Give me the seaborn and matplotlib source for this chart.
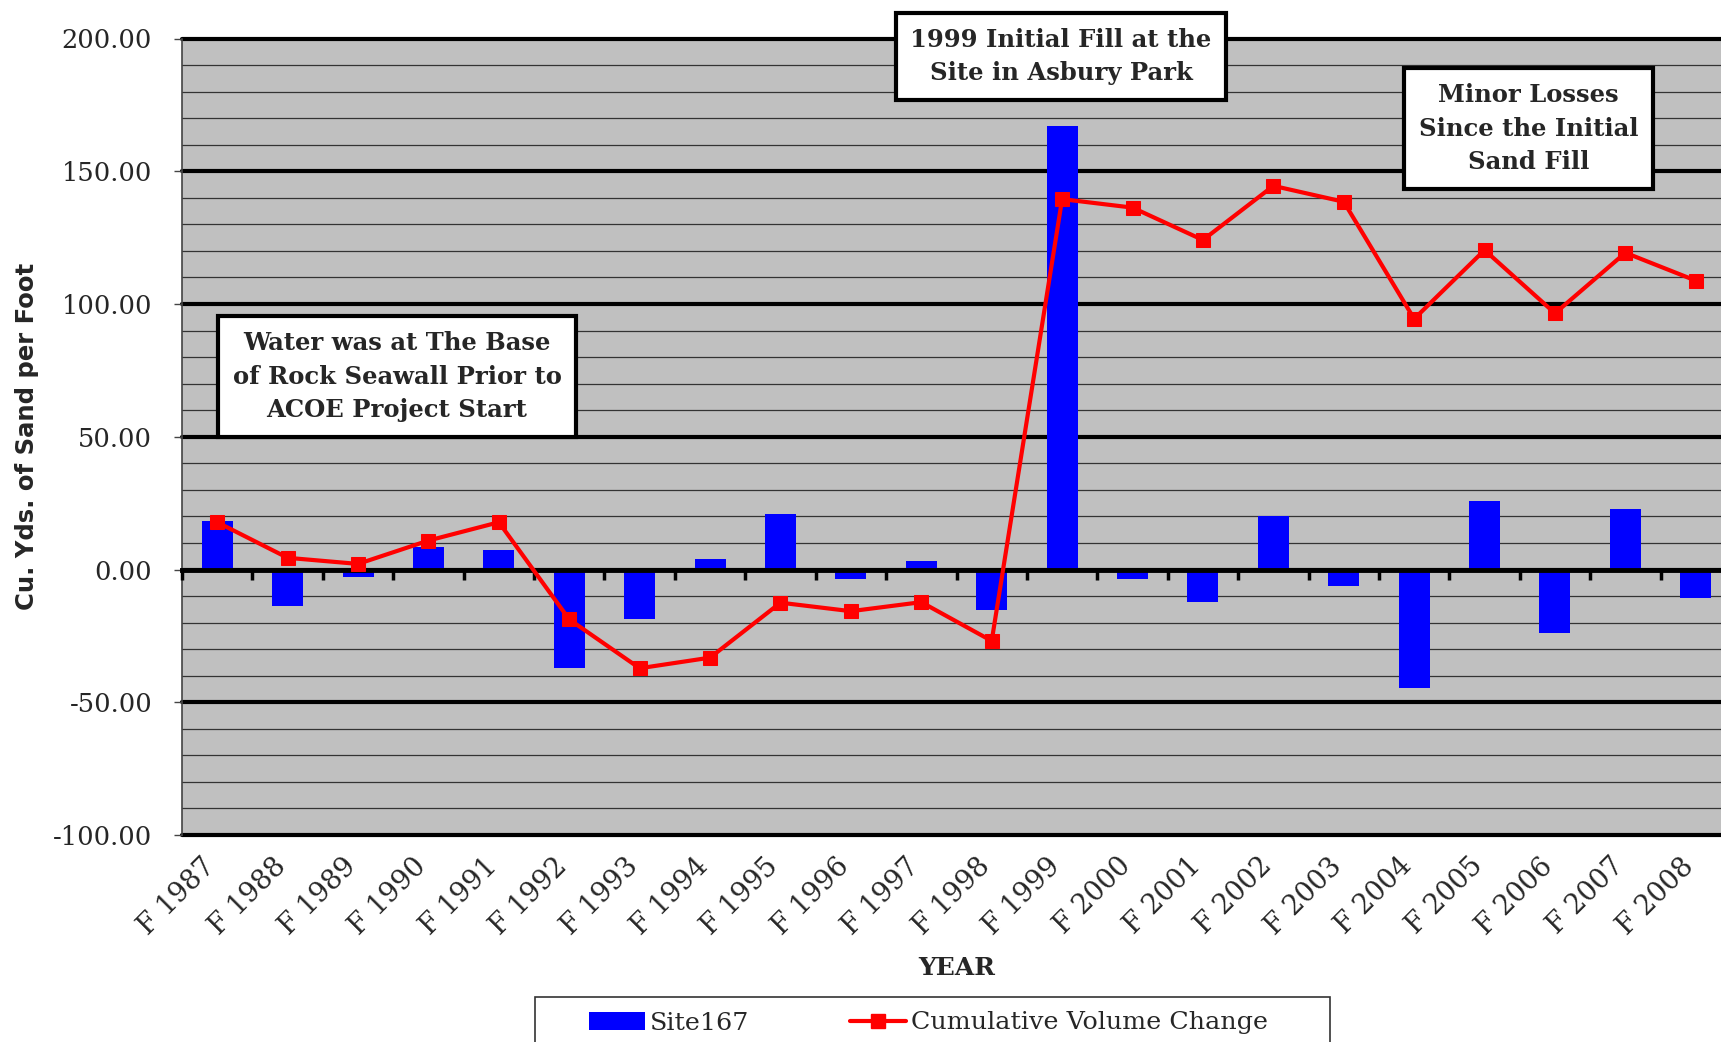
import numpy as np
import matplotlib
matplotlib.use("Agg")
import matplotlib.pyplot as plt
import matplotlib.transforms as mtransforms
from matplotlib.ticker import MultipleLocator, FormatStrFormatter
from matplotlib.patches import Patch, Rectangle
from matplotlib.lines import Line2D
import seaborn as sns

# values (cu. yds. of sand per foot)
years = ["F 1987", "F 1988", "F 1989", "F 1990", "F 1991", "F 1992", "F 1993", "F 1994",
         "F 1995", "F 1996", "F 1997", "F 1998", "F 1999", "F 2000", "F 2001", "F 2002",
         "F 2003", "F 2004", "F 2005", "F 2006", "F 2007", "F 2008"]
site167 = [18.2, -13.8, -2.8, 8.5, 7.3, -37.2, -18.8, 4.1, 20.9, -3.5, 3.3, -15.3,
           166.9, -3.6, -12.2, 20.2, -6.3, -44.7, 25.9, -24.1, 22.8, -10.7]
cumulative = [17.8, 4.4, 2.1, 10.9, 17.8, -18.8, -37.2, -33.2, -12.5, -15.7, -12.3, -26.9,
              139.5, 136.3, 124.1, 144.5, 138.5, 94.4, 120.3, 96.5, 119.3, 108.8]

sns.set_style("white")
plt.rcParams["font.family"] = ["DejaVu Serif"]

W, H = 1721, 1042
fig = plt.figure(figsize=(W / 100, H / 100), dpi=100)
# plot area runs off the right edge, like the original export
ax = fig.add_axes([182 / W, 1 - 835 / H, 1549 / W, 796.5 / H])
ax.set_facecolor("#C0C0C0")

sns.barplot(x=years, y=site167, color="#0000FF", saturation=1, width=0.44,
            edgecolor="none", ax=ax, zorder=2)
sns.lineplot(x=np.arange(len(cumulative)), y=cumulative, color="#FF0000", linewidth=3,
             marker="s", markersize=10, markeredgecolor="#FF0000", ax=ax, zorder=5)

ax.set_xlim(-0.5, len(years) - 0.5)
ax.set_ylim(-100, 200)

# gridlines: heavy every 50, thin every 10
ax.yaxis.set_major_locator(MultipleLocator(50))
ax.yaxis.set_minor_locator(MultipleLocator(10))
ax.yaxis.set_major_formatter(FormatStrFormatter("%.2f"))
ax.grid(axis="y", which="major", color="black", linewidth=3, zorder=0)
ax.grid(axis="y", which="minor", color="#333333", linewidth=0.9, zorder=0)
ax.grid(axis="x", visible=False)
ax.set_axisbelow(True)
for gl in ax.yaxis.get_gridlines():
    gl.set_clip_on(False)

ax.tick_params(axis="y", which="major", left=True, length=5.5, width=1, color="#444444",
               pad=16, labelsize=18.5)
ax.tick_params(axis="y", which="minor", left=False)
ax.tick_params(axis="x", which="major", bottom=False, pad=16, labelsize=19.5)
shift = mtransforms.ScaledTranslation(-6 / 100, 0, fig.dpi_scale_trans)
for lab in ax.get_xticklabels():
    lab.set_rotation(45)
    lab.set_ha("right")
    lab.set_va("center")
    lab.set_rotation_mode("anchor")
    lab.set_transform(lab.get_transform() + shift)

for side in ["top", "right", "bottom"]:
    ax.spines[side].set_visible(False)
ax.spines["left"].set_color("#444444")
ax.spines["left"].set_linewidth(1.2)

# category axis crosses at zero, with tick marks between the years
zero_ax = ax.secondary_xaxis(1 / 3)
zero_ax.set_xticks(np.arange(len(years) + 1) - 0.5)
zero_ax.set_xticklabels([])
zero_ax.tick_params(axis="x", direction="out", length=7, width=2.5, color="black")
zero_ax.spines["bottom"].set_linewidth(3.5)
zero_ax.spines["bottom"].set_color("black")
zero_ax.set_zorder(3)

ax.set_xlabel("YEAR", fontsize=18, fontweight="bold")
ax.xaxis.set_label_coords(0.5, -0.152)
ax.set_ylabel("Cu. Yds. of Sand per Foot", fontsize=17.5, fontweight="bold",
              family="DejaVu Sans")
ax.yaxis.set_label_coords(-0.092, 0.5)

# callout boxes
box = dict(boxstyle="square,pad=0.6", facecolor="white", edgecolor="black", linewidth=3)
note_kw = dict(transform=ax.transAxes, ha="center", va="center", fontsize=17.5,
               fontweight="bold", linespacing=1.52, bbox=box, zorder=10)
ax.text(0.5675, 0.9774, "1999 Initial Fill at the\nSite in Asbury Park", **note_kw)
ax.text(0.8693, 0.887, "Minor Losses\nSince the Initial\nSand Fill", **note_kw)
ax.text(0.1388, 0.5756, "Water was at The Base\nof Rock Seawall Prior to\nACOE Project Start",
        **note_kw)

# legend frame runs off the bottom edge in the original
fig.patches.append(Rectangle((535 / W, -0.05), 795 / W, 0.05 + 1 - 997 / H,
                             transform=fig.transFigure, facecolor="white",
                             edgecolor="#333333", linewidth=1.2))
handles = [Patch(facecolor="#0000FF", edgecolor="none"),
           Line2D([], [], color="#FF0000", linewidth=3, marker="s", markersize=10)]
fig.legend(handles, ["Site167", "Cumulative Volume Change"], loc="center left",
           bbox_to_anchor=(589 / W, 1 - 1023 / H), ncol=2, fontsize=18.3, frameon=False,
           columnspacing=3.95, handlelength=2.2, handletextpad=0.2, borderpad=0,
           borderaxespad=0)

fig.savefig("out.png", dpi=100)
